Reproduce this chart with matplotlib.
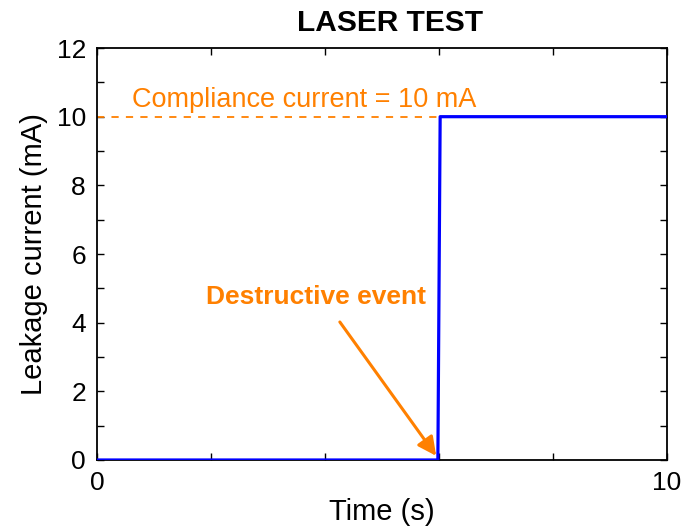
import numpy as np
import matplotlib
matplotlib.use("Agg")
import matplotlib.pyplot as plt

plt.rcParams['font.family'] = ['Liberation Sans', 'DejaVu Sans']

# leakage current trace (s, mA)
time_s = [0, 5.98, 6.02, 10]
leak_mA = [0, 0, 10, 10]
compliance_mA = 10
event_time = 5.95

orange = '#FF8000'

fig = plt.figure(figsize=(6.93, 5.26), dpi=100)
ax = fig.add_axes([0.14, 0.1255, 0.8225, 0.7832])

ax.plot([0, time_s[2]], [compliance_mA, compliance_mA], color=orange,
        lw=1.3, ls=(0, (4, 4)))
ax.plot(time_s, leak_mA, color='#0000FF', lw=2.3, zorder=3)

ax.text(0.61, 10.5, 'Compliance current = 10 mA', color=orange,
        fontsize=19.5, va='center', ha='left')
ax.text(3.84, 4.75, 'Destructive event', color=orange, fontsize=19,
        fontweight='bold', ha='center', va='center')
ax.annotate('', xy=(event_time, 0.12), xytext=(4.26, 4.02),
            arrowprops=dict(arrowstyle='-|>', color=orange, lw=2.2,
                            mutation_scale=28, shrinkA=0, shrinkB=0))

ax.set_xlim(0, 10)
ax.set_ylim(0, 12)
ax.set_xticks(np.arange(0, 11, 2))
ax.set_xticklabels(['0', '', '', '', '', '10'])
ax.set_yticks(np.arange(0, 13, 1))
ax.set_yticklabels([str(v) if v % 2 == 0 else '' for v in range(13)])
ax.tick_params(direction='in', length=5, width=1, labelsize=19,
               top=True, right=True, pad=8)
for s in ax.spines.values():
    s.set_linewidth(1.3)

ax.set_xlabel('Time (s)', fontsize=21, labelpad=2)
ax.set_ylabel('Leakage current (mA)', fontsize=21, labelpad=6)
ax.set_title('LASER TEST', fontsize=21.5, fontweight='bold', pad=12, x=0.514)

fig.savefig('out.png', dpi=100)
